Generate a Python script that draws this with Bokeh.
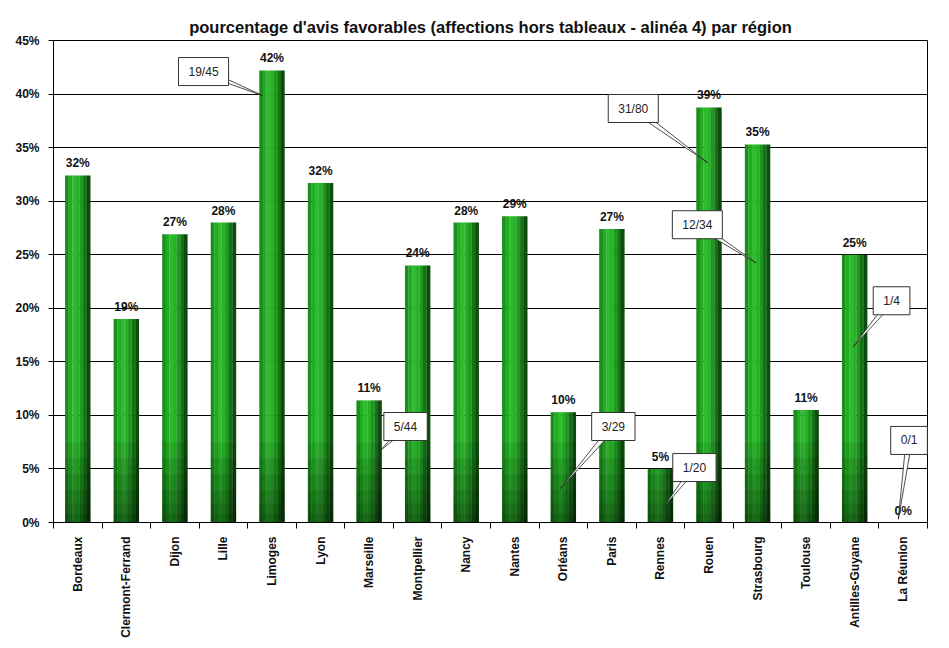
import numpy as np
from bokeh.plotting import figure
from bokeh.models import ColumnDataSource, FixedTicker, PrintfTickFormatter, Label
from bokeh.transform import dodge
from bokeh.embed import file_html
from bokeh.resources import INLINE
from bokeh.core.properties import value

# ---------------- data ----------------
chart_title = "pourcentage d'avis favorables (affections hors tableaux - alinéa 4) par région"
regions = ["Bordeaux", "Clermont-Ferrand", "Dijon", "Lille", "Limoges", "Lyon",
           "Marseille", "Montpellier", "Nancy", "Nantes", "Orléans", "Paris",
           "Rennes", "Rouen", "Strasbourg", "Toulouse", "Antilles-Guyane", "La Réunion"]
pct = [32.4, 19.0, 26.9, 28.0, 42.2, 31.7, 11.4, 24.0, 28.0, 28.6, 10.3, 27.4,
       5.0, 38.75, 35.3, 10.5, 25.0, 0.0]
pct_labels = ["32%", "19%", "27%", "28%", "42%", "32%", "11%", "24%", "28%", "29%",
              "10%", "27%", "5%", "39%", "35%", "11%", "25%", "0%"]
y_ticks = [0, 5, 10, 15, 20, 25, 30, 35, 40, 45]

# callouts (fractions) : box centre and pointer tip, in data units (category centres at 0..17)
callout_text = ["19/45", "31/80", "12/34", "5/44", "3/29", "1/20", "1/4", "0/1"]
callout_box_x = [2.59, 11.44, 12.76, 6.75, 11.03, 12.70, 16.76, 17.12]
callout_box_y = [42.1, 38.65, 27.8, 8.96, 8.96, 5.13, 20.7, 7.66]
callout_tip_x = [3.80, 12.97, 13.96, 6.23, 9.94, 12.06, 15.97, 16.90]
callout_tip_y = [39.87, 33.6, 24.27, 6.72, 3.17, 1.4, 16.4, 0.3]

FONT = "Liberation Sans"
n = len(regions)
xs = list(range(n))

src = ColumnDataSource(dict(
    x=xs, top=pct, lab=pct_labels,
    d1=np.minimum(pct, 7.5), d2=np.minimum(pct, 6.0), d3=np.minimum(pct, 4.5),
    d4=np.minimum(pct, 3.0), d5=np.minimum(pct, 1.8), d6=np.minimum(pct, 0.8),
))

p = figure(width=941, height=640, x_range=(-0.5, n - 0.5), y_range=(0, 45),
           output_backend="svg", toolbar_location=None,
           min_border_left=53, min_border_right=14, min_border_top=40,
           min_border_bottom=118)
p.background_fill_color = "white"
p.border_fill_color = "white"
p.outline_line_color = "black"
p.outline_line_width = 1

p.title.text = chart_title
p.title.align = "center"
p.title.text_font = FONT
p.title.text_font_size = "16.5px"
p.title.text_font_style = "bold"
p.title.text_color = "#111111"

# grid
yt = FixedTicker(ticks=y_ticks)
p.yaxis.ticker = yt
p.ygrid.ticker = yt
p.ygrid.grid_line_color = "black"
p.ygrid.grid_line_width = 1
p.xgrid.visible = False

# y axis
p.yaxis.formatter = PrintfTickFormatter(format="%d%%")
p.yaxis.major_label_text_font = FONT
p.yaxis.major_label_text_font_size = "12px"
p.yaxis.major_label_text_font_style = "bold"
p.yaxis.major_label_text_color = "#111111"
p.yaxis.major_tick_out = 5
p.yaxis.major_tick_in = 0
p.yaxis.minor_tick_line_color = None
p.yaxis.axis_line_color = "black"
p.yaxis.major_label_standoff = 9

# x axis
xt = FixedTicker(ticks=xs, minor_ticks=[i - 0.5 for i in range(n + 1)])
p.xaxis.ticker = xt
p.xaxis.major_label_overrides = {i: r for i, r in enumerate(regions)}
p.xaxis.major_label_orientation = np.pi / 2
p.xaxis.major_label_text_font = FONT
p.xaxis.major_label_text_font_size = "12px"
p.xaxis.major_label_text_font_style = "bold"
p.xaxis.major_label_text_color = "#111111"
p.xaxis.major_tick_out = 0
p.xaxis.major_tick_in = 0
p.xaxis.minor_tick_out = 6
p.xaxis.minor_tick_in = 0
p.xaxis.minor_tick_line_color = "black"
p.xaxis.axis_line_color = "black"
p.xaxis.major_label_standoff = 8

# bars as vertical shaded strips (cylinder-like gradient)
bar_w = 0.52
strip_colors = ["#1a8f1a", "#24ab24", "#2cbc2c", "#28b228", "#1f981f", "#167216", "#0c4c0c"]
ns = len(strip_colors)
sw = bar_w / ns
for i, c in enumerate(strip_colors):
    off = -bar_w / 2 + sw * (i + 0.5)
    p.vbar(x=dodge("x", off), top="top", bottom=0, width=sw * 1.05, source=src,
           fill_color=c, line_color=None)
# darker base
for col in ["d1", "d2", "d3", "d4", "d5", "d6"]:
    p.vbar(x="x", top=col, bottom=0, width=bar_w, source=src,
           fill_color="black", fill_alpha=0.09, line_color=None)

# value labels
p.text(x="x", y="top", text="lab", source=src, text_align="center",
       text_baseline="bottom", y_offset=-5, text_font=value(FONT),
       text_font_size="12px", text_font_style="bold", text_color="#111111")

# callouts: pointer wedges + boxes
PX_X = 874 / n
PX_Y = 482 / 45
wx, wy = [], []
for bx, by, tx, ty in zip(callout_box_x, callout_box_y, callout_tip_x, callout_tip_y):
    dx = (tx - bx) * PX_X
    dy = (ty - by) * PX_Y
    L = (dx * dx + dy * dy) ** 0.5
    px_, py_ = -dy / L * 3.0, dx / L * 3.0
    wx.append([bx + px_ / PX_X, bx - px_ / PX_X, tx])
    wy.append([by + py_ / PX_Y, by - py_ / PX_Y, ty])
p.patches(wx, wy, fill_color="white", line_color="#222222", line_width=0.8)

for t, bx, by in zip(callout_text, callout_box_x, callout_box_y):
    shadow = Label(x=bx, y=by, text=t, text_align="center", text_baseline="middle",
                   text_font=FONT, text_font_size="12px", text_alpha=0.0,
                   x_offset=2, y_offset=-2,
                   background_fill_color="#9a9a9a", border_line_color=None,
                   padding=dict(left=10, right=10, top=7, bottom=7))
    p.add_layout(shadow)
    box = Label(x=bx, y=by, text=t, text_align="center", text_baseline="middle",
                text_font=FONT, text_font_size="12px", text_color="#222222",
                background_fill_color="white", border_line_color="#333333",
                border_line_width=1,
                padding=dict(left=10, right=10, top=7, bottom=7))
    p.add_layout(box)

open("out.html", "w").write(file_html(p, INLINE))
